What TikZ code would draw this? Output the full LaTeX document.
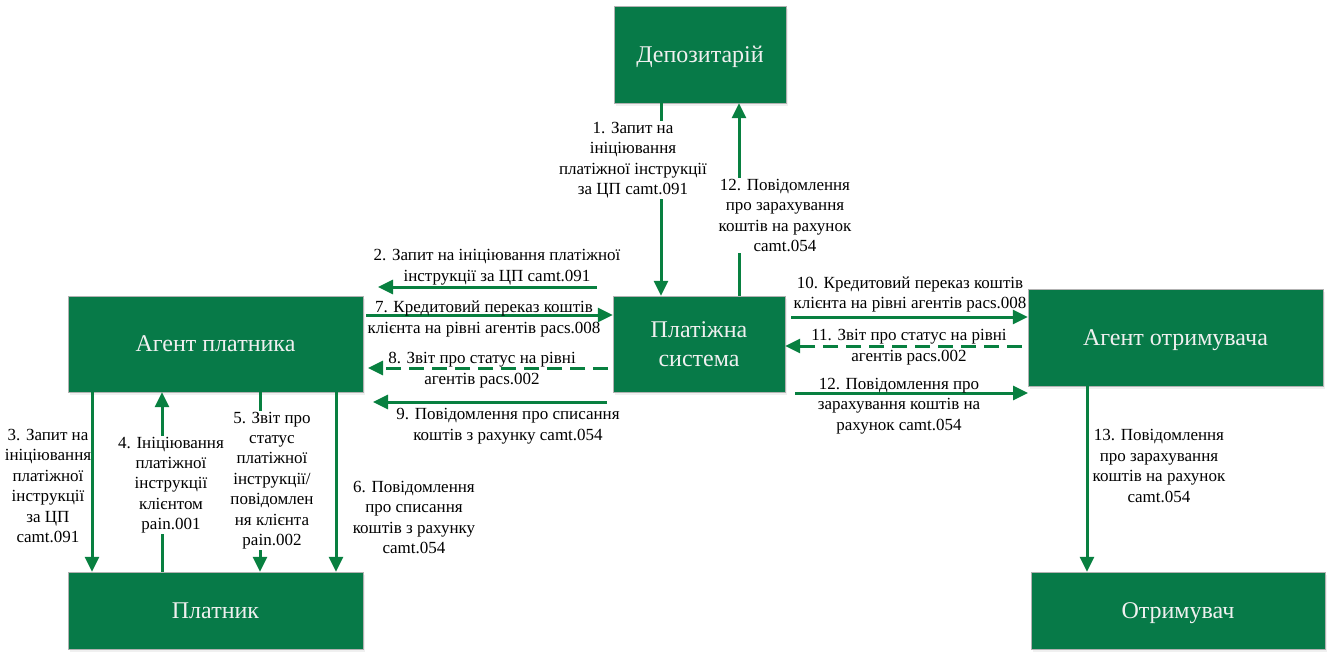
\documentclass[tikz,border=0pt]{standalone}
\usepackage{fontspec}
\setmainfont{Liberation Serif}
\usetikzlibrary{arrows.meta,shadows}
\definecolor{boxgreen}{RGB}{7,122,72}
\definecolor{linegreen}{RGB}{8,128,64}
\tikzset{
    boxnode/.style={rectangle, fill=boxgreen, draw=gray!60, thin, text=white!94!black, align=center,
        font=\fontsize{24}{29}\selectfont, inner sep=0, text depth=0pt,
        drop shadow={opacity=0.12, shadow xshift=2pt, shadow yshift=-3pt}},
    msgtext/.style={align=center, font=\fontsize{17}{20.4}\selectfont, inner sep=1pt},
    msgarrow/.style={draw=linegreen, line width=3pt, -{Triangle[length=15pt,width=14pt]}},
    statarrow/.style={msgarrow, dash pattern=on 15pt off 8pt}
}

\begin{document}
\begin{tikzpicture}[x=1pt,y=-1pt]
    \useasboundingbox (0,0) rectangle (1330,651);
    % participants
    \node[boxnode, minimum width=172pt, minimum height=97pt] (dep) at (700,54.5) {Депозитарій};
    \node[boxnode, minimum width=172pt, minimum height=96pt] (ps) at (699,344) {Платіжна\\система};
    \node[boxnode, minimum width=295pt, minimum height=96pt] (ap) at (215.5,344) {Агент платника};
    \node[boxnode, minimum width=295pt, minimum height=97pt] (ao) at (1175.5,337.5) {Агент отримувача};
    \node[boxnode, minimum width=295pt, minimum height=77pt] (pl) at (215.5,610.5) {Платник};
    \node[boxnode, minimum width=294pt, minimum height=77pt] (ot) at (1178,610.5) {Отримувач};

    % columns of the vertical messages
    \coordinate (c1) at (661,0);
    \coordinate (c12) at (739,0);
    \coordinate (c3) at (92,0);
    \coordinate (c4) at (162,0);
    \coordinate (c5) at (260,0);
    \coordinate (c6) at (336,0);
    \coordinate (c13) at (1087,0);
    % free ends of the horizontal messages
    \coordinate (s2) at (597,287);
    \coordinate (e2) at (378,287);
    \coordinate (s7) at (366,315);
    \coordinate (s8) at (608,368);
    \coordinate (e8) at (368,368);
    \coordinate (s9) at (607,402);
    \coordinate (e9) at (373,402);
    \coordinate (s10) at (791,317);
    \coordinate (s11) at (1022,346);
    \coordinate (s12) at (795,393);
    \coordinate (e12) at (1028,393);

    % messages
    \draw[msgarrow] (dep.south -| c1) -- (ps.north -| c1);
    \draw[msgarrow] (ps.north -| c12) -- (dep.south -| c12);
    \draw[msgarrow] (s2) -- (e2);
    \draw[msgarrow] (s7) -- (ps.west |- s7);
    \draw[statarrow] (s8) -- (e8);
    \draw[msgarrow] (s9) -- (e9);
    \draw[msgarrow] (s10) -- (ao.west |- s10);
    \draw[statarrow] (s11) -- (ps.east |- s11);
    \draw[msgarrow] (s12) -- (e12);
    \draw[msgarrow] (ap.south -| c3) -- (pl.north -| c3);
    \draw[msgarrow] (pl.north -| c4) -- (ap.south -| c4);
    \draw[msgarrow] (ap.south -| c5) -- (pl.north -| c5);
    \draw[msgarrow] (ap.south -| c6) -- (pl.north -| c6);
    \draw[msgarrow] (ao.south -| c13) -- (ot.north -| c13);

    % labels
    \node[msgtext, fill=white] (t1) at (633,160) {1. Запит на\\ініціювання\\платіжної інструкції\\за ЦП camt.091};
    \node[msgtext] (t2) at (497,267) {2. Запит на ініціювання платіжної\\інструкції за ЦП camt.091};
    \node[msgtext] (t3) at (48,486) {3. Запит на\\ініціювання\\платіжної\\інструкції\\за ЦП\\camt.091};
    \node[msgtext, fill=white] (t4) at (171,485) {4. Ініціювання\\платіжної\\інструкції\\клієнтом\\pain.001};
    \node[msgtext, fill=white] (t5) at (272,480.5) {5. Звіт про\\статус\\платіжної\\інструкції/\\повідомлен\\ня клієнта\\pain.002};
    \node[msgtext] (t6) at (414,517.5) {6. Повідомлення\\про списання\\коштів з рахунку\\camt.054};
    \node[msgtext] (t7) at (484,319) {7. Кредитовий переказ коштів\\клієнта на рівні агентів pacs.008};
    \node[msgtext] (t8) at (482,370) {8. Звіт про статус на рівні\\агентів pacs.002};
    \node[msgtext] (t9) at (508,426) {9. Повідомлення про списання\\коштів з рахунку camt.054};
    \node[msgtext] (t10) at (910,294.5) {10. Кредитовий переказ коштів\\клієнта на рівні агентів pacs.008};
    \node[msgtext] (t11) at (909,347) {11. Звіт про статус на рівні\\агентів pacs.002};
    \node[msgtext, fill=white] (t12a) at (785,215.5) {12. Повідомлення\\про зарахування\\коштів на рахунок\\camt.054};
    \node[msgtext] (t12b) at (899,406) {12. Повідомлення про\\зарахування коштів на\\рахунок camt.054};
    \node[msgtext] (t13) at (1159,466) {13. Повідомлення\\про зарахування\\коштів на рахунок\\camt.054};
\end{tikzpicture}
\end{document}
